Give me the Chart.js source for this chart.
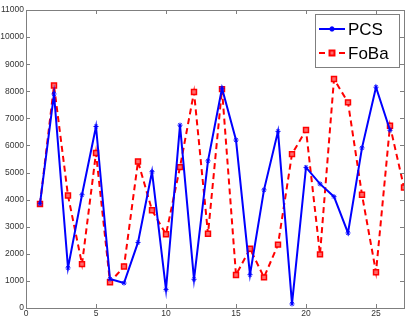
<!DOCTYPE html>
<html>
<head>
<meta charset="utf-8">
<script src="https://cdn.jsdelivr.net/npm/chart.js@4"></script>
<style>
  html, body { margin: 0; padding: 0; background: #fff; }
  #wrap { width: 411px; height: 319px; }
</style>
</head>
<body>
<div id="wrap"><canvas id="grafico"></canvas></div>
<script>
// valores
const xs = [1,2,3,4,5,6,7,8,9,10,11,12,13,14,15,16,17,18,19,20,21,22,23,24,25,26,27];
const pcs = [3850,7900,1480,4180,6700,1070,920,2420,5030,680,6750,1060,5430,8110,6200,1230,4360,6520,150,5190,4580,4110,2770,5910,8150,6560];
const foba = [3840,8210,4150,1620,5720,950,1530,5410,3610,2720,5200,7970,2740,8080,1220,2190,1130,2340,5680,6570,1980,8450,7590,4180,1320,6730,4450];
const xTicks = [0,5,10,15,20,25];

const eixoCor = '#7f7f7f';

// caixa estilo matlab com ticks para dentro + legenda dentro do grafico
const caixa = {
  id: 'caixa',
  afterDraw(chart) {
    const ctx = chart.ctx, a = chart.chartArea;
    const sx = chart.scales.x, sy = chart.scales.y;
    ctx.save();
    ctx.strokeStyle = eixoCor;
    ctx.lineWidth = 1;
    ctx.strokeRect(a.left + 0.5, a.top + 0.5, a.right - a.left, a.bottom - a.top);
    ctx.beginPath();
    xTicks.forEach(v => {
      const p = Math.round(sx.getPixelForValue(v)) + 0.5;
      ctx.moveTo(p, a.bottom); ctx.lineTo(p, a.bottom - 4);
      ctx.moveTo(p, a.top); ctx.lineTo(p, a.top + 4);
    });
    sy.ticks.forEach(t => {
      const p = Math.round(sy.getPixelForValue(t.value)) + 0.5;
      ctx.moveTo(a.left, p); ctx.lineTo(a.left + 4, p);
      ctx.moveTo(a.right, p); ctx.lineTo(a.right - 4, p);
    });
    ctx.stroke();

    // legenda
    const lx = 315, ly = 14, lw = 84, lh = 53;
    ctx.fillStyle = '#fff';
    ctx.fillRect(lx, ly, lw, lh);
    ctx.strokeStyle = eixoCor;
    ctx.strokeRect(lx + 0.5, ly + 0.5, lw, lh);
    const itens = chart.data.datasets;
    itens.forEach((ds, i) => {
      const y = ly + 15 + i * 24;
      ctx.strokeStyle = ds.borderColor;
      ctx.lineWidth = 2;
      ctx.setLineDash(ds.borderDash || []);
      ctx.beginPath();
      ctx.moveTo(lx + 4, y); ctx.lineTo(lx + 30, y);
      ctx.stroke();
      ctx.setLineDash([]);
      ctx.fillStyle = ds.backgroundColor;
      Chart.helpers.drawPoint(ctx, {
        pointStyle: ds.pointStyle, radius: ds.pointRadius, borderWidth: 1
      }, lx + 17, y);
      ctx.fillStyle = '#000';
      ctx.font = '17px "Liberation Sans", Arial, sans-serif';
      ctx.textBaseline = 'middle';
      ctx.fillText(ds.label, lx + 33, y + 1);
    });
    ctx.restore();
  }
};

const dados = {
  datasets: [
    {
      label: 'PCS',
      data: pcs.map((v, i) => ({ x: xs[i], y: v })),
      borderColor: '#0000ff',
      backgroundColor: '#0000ff',
      borderWidth: 2,
      pointStyle: 'star',
      pointRadius: 2.5,
      pointBorderWidth: 1,
      tension: 0
    },
    {
      label: 'FoBa',
      data: foba.map((v, i) => ({ x: xs[i], y: v })),
      borderColor: '#ff0000',
      backgroundColor: '#ff6a6a',
      borderWidth: 2,
      borderDash: [6, 4],
      pointStyle: 'rect',
      pointRadius: 3.5,
      pointBorderWidth: 1.5,
      tension: 0
    }
  ]
};

const config = {
  type: 'line',
  data: dados,
  options: {
    responsive: true,
    maintainAspectRatio: false,
    animation: false,
    layout: { padding: { top: 10, right: 7, left: 0, bottom: 0 } },
    plugins: { legend: { display: false }, tooltip: { enabled: false } },
    scales: {
      x: {
        type: 'linear', min: 0, max: 27,
        afterBuildTicks: s => { s.ticks = xTicks.map(v => ({ value: v })); },
        afterFit: s => { s.height = 11; },
        grid: { display: false, drawTicks: false },
        border: { display: false },
        ticks: { padding: 1, color: '#333', font: { size: 8.5, family: '"Liberation Sans", Arial' }, maxRotation: 0 }
      },
      y: {
        min: 0, max: 11000,
        afterFit: s => { s.width = 26; },
        grid: { display: false, drawTicks: false },
        border: { display: false },
        ticks: {
          stepSize: 1000, padding: 2, color: '#333',
          font: { size: 8.5, family: '"Liberation Sans", Arial' },
          callback: v => String(v)
        }
      }
    }
  },
  plugins: [caixa]
};

const meuGrafico = new Chart(document.getElementById('grafico'), config);
</script>
</body>
</html>
